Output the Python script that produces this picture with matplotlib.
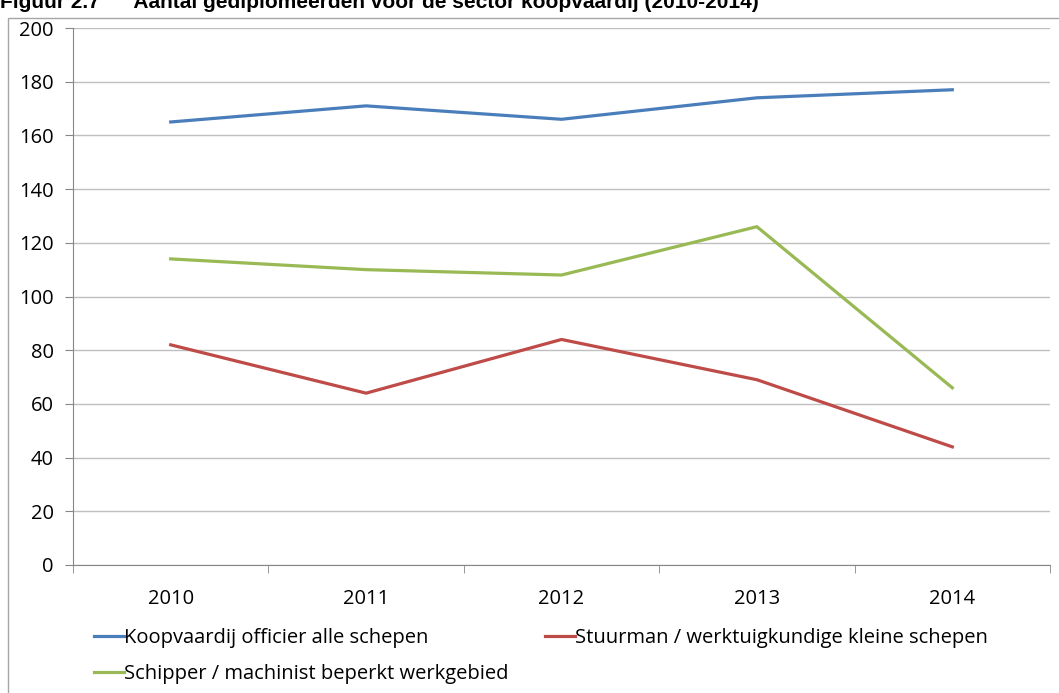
import matplotlib.pyplot as plt
from matplotlib.patches import Rectangle

plt.rcParams['font.family'] = ['Open Sans', 'DejaVu Sans']

years = ['2010', '2011', '2012', '2013', '2014']
koopvaardij = [165, 171, 166, 174, 177]
stuurman = [82, 64, 84, 69, 44]
schipper = [114, 110, 108, 126, 66]

W, H = 1059, 693
fig = plt.figure(figsize=(W / 100, H / 100), dpi=100)

# outer chart frame (partly cut off on the right and bottom)
fig.patches.append(Rectangle((8 / W, -0.1), 1.2, 1 - 18 / H + 0.1,
                             transform=fig.transFigure, fill=False,
                             edgecolor='#a6a6a6', linewidth=1.0))

# title, mostly cut off at the top
fig.text(0, 1 - 3 / H, 'Figuur 2.7      Aantal gediplomeerden voor de sector koopvaardij (2010-2014)',
         fontsize=15, fontweight='bold', family=['Liberation Sans', 'DejaVu Sans'],
         va='center', ha='left')

ax = fig.add_axes([73 / W, 1 - 565 / H, (1050 - 73) / W, (565 - 28) / H])

x = list(range(len(years)))
l1, = ax.plot(x, koopvaardij, color='#4a7ebb', linewidth=2.3)
l2, = ax.plot(x, stuurman, color='#be4b48', linewidth=2.3)
l3, = ax.plot(x, schipper, color='#98b954', linewidth=2.3)

ax.set_xlim(-0.5, len(years) - 0.5)
ax.set_ylim(0, 200)
ax.set_yticks(range(0, 201, 20))
ax.set_xticks(x)
ax.set_xticklabels(years)
ax.set_xticks([i - 0.5 for i in range(len(years) + 1)], minor=True)
ax.tick_params(axis='x', which='major', length=0, pad=17, labelsize=14.5)
ax.tick_params(axis='x', which='minor', length=6, color='#868686', direction='out')
ax.tick_params(axis='y', length=6, color='#868686', labelsize=14.5, pad=8)
ax.grid(axis='y', color='#bfbfbf', linewidth=1.0)
ax.set_axisbelow(True)
for side in ['top', 'right']:
    ax.spines[side].set_visible(False)
ax.spines['left'].set_color('#868686')
ax.spines['bottom'].set_color('#868686')

fig.legend([l1, l3, l2],
           ['Koopvaardij officier alle schepen', 'Schipper / machinist beperkt werkgebied',
            'Stuurman / werktuigkundige kleine schepen'],
           loc='upper left', bbox_to_anchor=(86 / W, 1 - 620 / H), ncol=2,
           frameon=False, fontsize=14.5, handlelength=1.5, handletextpad=0.0,
           columnspacing=1.8, labelspacing=0.8, borderaxespad=0)

fig.savefig('out.png', dpi=100)
